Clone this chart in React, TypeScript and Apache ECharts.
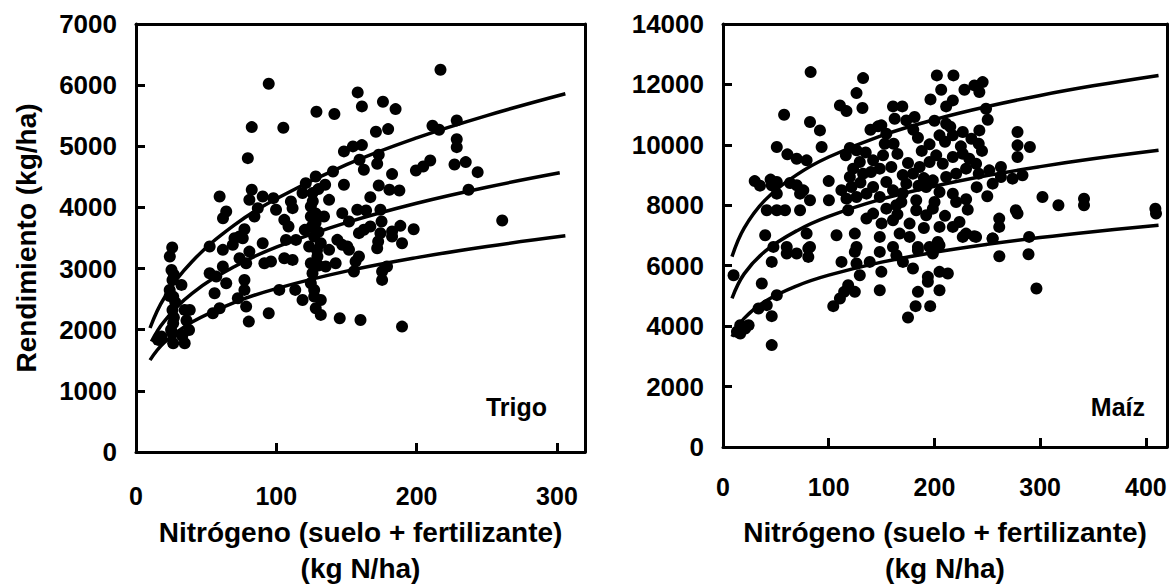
import React, { useEffect, useRef } from "react";
import * as echarts from "echarts";

const FONT = "'Liberation Sans', Arial, Helvetica, sans-serif";

// Axis extents
const trigoXMax = 320;
const trigoYMax = 7000;
const maizXMax = 420;
const maizYMax = 14000;

// Trigo (wheat) observations: [N kg/ha, yield kg/ha]
const trigoPoints: [number, number][] = [
  [94.6, 6023], [217, 6252], [158, 5881], [128.6, 5565], [141.4, 5527], [161, 5652], [176, 5729], [185, 5608],
  [82.5, 5314], [105, 5303], [171, 5237], [179.7, 5281], [211.3, 5335], [216, 5270], [228.6, 5423], [228.6, 5117],
  [228.6, 4986], [79.7, 4806], [148.2, 4916], [154.6, 4998], [161, 5019], [159.3, 4779], [162.4, 4616], [171.9, 4714],
  [173, 4861], [199.5, 4604], [204.7, 4670], [209.7, 4768], [227, 4703], [235, 4741], [243.5, 4577], [237, 4288],
  [261, 3786], [182.5, 4545], [173, 4359], [180.6, 4288], [187.7, 4277], [167, 4168], [148.2, 4370], [140.4, 4588],
  [128.1, 4506], [121, 4397], [134.8, 4370], [137.6, 4124], [125.8, 4234], [118.7, 4234], [59.6, 4179], [64.3, 3934],
  [62, 3824], [82.5, 4288], [80.8, 4124], [90.3, 4179], [97.9, 4152], [86.8, 3988], [84.4, 3852], [99.8, 3961],
  [110.4, 4097], [111.6, 3988], [105.7, 3797], [108.7, 3688], [124.6, 4015], [124.6, 3852], [125.3, 3688], [127, 3524],
  [134, 3852], [147, 3906], [151.8, 3770], [157.7, 3961], [164, 3950], [162.4, 3634], [167, 3688], [174.2, 3961],
  [175, 3770], [174.2, 3579], [182.5, 3606], [188.4, 3699], [189.6, 3415], [197.9, 3644], [172.6, 3442], [158.9, 3579],
  [77.3, 3644], [73.8, 3524], [70.2, 3497], [90.3, 3415], [120.3, 3633], [143.5, 3470], [150.6, 3361], [52.5, 3361],
  [25.8, 3345], [25.3, 2978], [26, 2815], [26.5, 2542], [26, 2324], [26.5, 2105], [26, 1942], [26.5, 1778],
  [18.2, 1887], [15.8, 1833], [34.7, 1778], [37.8, 1996], [34.7, 2324], [38.3, 2324], [32.4, 2733], [61.9, 3306],
  [69, 3388], [76.1, 3497], [78.5, 3088], [73.8, 3169], [80.8, 3278], [91.5, 3088], [96.2, 3115], [52.5, 2924],
  [57.2, 2869], [56, 2596], [61.9, 3033], [64.3, 2760], [54.8, 2269], [59.6, 2351], [72.6, 2515], [77.3, 2815],
  [77.3, 2651], [78.5, 2378], [80.4, 2133], [94.6, 2269], [102.1, 2651], [105.7, 3169], [111.6, 3142], [106.9, 3469],
  [114, 3469], [113.5, 2651], [118.7, 2487], [123.4, 3360], [124.6, 3088], [125.8, 2924], [127, 2542], [128.1, 2351],
  [131.7, 2242], [131.7, 2487], [129.3, 3197], [131.7, 3415], [135.2, 3033], [137.6, 3306], [142.3, 3088], [147, 3388],
  [151.8, 3306], [156.5, 3115], [158.9, 3197], [145.2, 2187], [160, 2160], [155.3, 2951], [171.9, 3333], [175.4, 2815],
  [175.4, 2951], [178.9, 3033], [182.5, 3524], [189.6, 2051], [124.6, 2760], [24.1, 3197], [24, 2650], [27, 2200],
  [25, 2000], [28, 2450], [128, 3900], [128, 3750], [130, 3600], [129, 3300], [130, 3050], [127, 2650], [126, 4100],
  [130, 4300], [24, 2550], [27, 2900], [36, 2150], [33, 1900],
];

// Maíz (maize) observations: [N kg/ha, yield kg/ha]
const maizPoints: [number, number][] = [
  [82.9, 12408], [132.5, 12209], [202.3, 12298], [218, 12298], [57.8, 10997], [126.3, 11713], [110.6, 11306], [116.8, 11118],
  [131.9, 11218], [82.3, 10755], [91.7, 10479], [93.3, 9928], [50.9, 9928], [60.9, 9686], [69.7, 9542], [79.1, 9487],
  [160.8, 11273], [169.6, 11273], [162.4, 10865], [173.4, 10810], [181.2, 10920], [196.3, 11504], [206.4, 11824], [217.4, 11471],
  [211.1, 11273], [228.4, 11824], [237.8, 11967], [245.6, 12077], [242.5, 11746], [248.8, 11196], [250.4, 10832], [242.5, 10479],
  [241.9, 10038], [226.8, 10424], [217.4, 10314], [211.1, 10700], [204.8, 10314], [195.4, 10016], [184.4, 10237], [149.8, 10645],
  [139.5, 10501], [146.7, 10612], [154.5, 10369], [161.4, 10038], [153, 10038], [116.2, 9653], [126.3, 9818], [129.4, 9432],
  [123.1, 9212], [120, 8936], [121.5, 8606], [126.3, 8275], [132.5, 9047], [142, 9487], [148.3, 9212], [151.4, 9653],
  [159.2, 9267], [154.5, 8771], [160.8, 8495], [142, 8606], [135.7, 8385], [148.3, 8275], [175, 9399], [179.7, 9047],
  [186, 9267], [195.4, 9432], [201.7, 9653], [207.9, 9377], [217.4, 9598], [226.8, 9708], [233, 9542], [239.4, 9377],
  [229.9, 9212], [220.5, 9047], [211.1, 8936], [198.5, 8826], [192.2, 8606], [204.8, 8440], [217.4, 8385], [220.5, 8110],
  [200.1, 8110], [182.8, 8165], [173.4, 8716], [168.7, 8110], [231.5, 7856], [241.9, 9047], [251.9, 9157], [255.1, 8716],
  [262.9, 9267], [262.9, 8936], [273.9, 8881], [283.3, 8991], [278.6, 10424], [278.6, 9983], [278.6, 9598], [290.3, 9928],
  [302.2, 8275], [317.3, 8000], [341.5, 8220], [341.5, 8000], [409, 7889], [409.6, 7724], [277, 7834], [278.6, 7724],
  [261.3, 7559], [261.3, 7284], [50.9, 8771], [46.1, 8661], [50.9, 8385], [41.4, 7834], [50.9, 7834], [58.7, 7834],
  [72.9, 8385], [82.3, 8165], [72.9, 7834], [63.4, 8738], [69.7, 8661], [76, 8495], [100.2, 8165], [116.8, 8220],
  [118.4, 7834], [135.7, 7559], [142, 7724], [154.5, 7889], [163.9, 8000], [160.8, 7504], [167.1, 7063], [176.5, 7394],
  [182.8, 7834], [192.2, 7669], [198.5, 7889], [204.8, 7284], [217.4, 7284], [223.7, 7449], [229.9, 7063], [239.4, 6953],
  [255.1, 6898], [289.6, 6953], [39.9, 7008], [79.1, 7063], [107.4, 7008], [124.7, 7063], [148.3, 6953], [176.5, 6953],
  [203.2, 6788], [60.3, 6622], [82.3, 6622], [126.3, 6622], [195.4, 6622], [184.4, 6622], [160.8, 6622], [47.7, 6623],
  [60.3, 6403], [69.7, 6403], [80.7, 6568], [80.7, 6292], [10, 5686], [36.7, 5411], [46.1, 6127], [112.1, 6127],
  [124.7, 6458], [126.3, 6072], [129.4, 5686], [138.8, 6127], [148.3, 6458], [149.8, 5797], [148.3, 5190], [164, 6348],
  [170.2, 6127], [179.7, 5907], [184.4, 6513], [198.5, 6403], [204.8, 6678], [193.8, 5631], [193.8, 5466], [204.8, 5797],
  [212.7, 5742], [204.8, 5190], [196, 4661], [184.4, 5135], [182.2, 4661], [175, 4287], [118.4, 5356], [124.7, 5135],
  [110.6, 4915], [104.3, 4661], [114.6, 5135], [261.4, 6314], [289, 6381], [296.5, 5246], [255, 6899], [16.3, 4033],
  [13.2, 3813], [24.2, 4033], [33.6, 4584], [41.4, 4694], [46.1, 4331], [46.1, 3372], [50.9, 5025], [16.3, 3758],
  [21, 3923], [226.8, 6954], [237.8, 6976], [120, 9900], [135, 9750], [140, 9100], [165, 9700], [170, 9000],
  [188, 9800], [190, 8900], [210, 10100], [225, 9950], [235, 10200], [245, 9800], [170, 8400], [185, 8650],
  [130, 8750], [112, 8500], [100, 8800], [150, 7400], [165, 7700], [190, 7250], [210, 7650], [230, 8200],
  [240, 8600], [250, 8300], [180, 10500], [200, 10800], [215, 10600], [30, 8800], [35, 8650], [45, 8850],
];

// Fitted response curves
const trigoHighX = [10, 20, 40, 70, 100, 150, 200, 250, 306];
const trigoHighY = [2028, 2514, 3117, 3710, 4143, 4699, 5137, 5502, 5859];
const trigoMidX = [11, 20, 40, 70, 100, 150, 200, 250, 302];
const trigoMidY = [1806, 2134, 2595, 3031, 3352, 3752, 4069, 4331, 4566];
const trigoLowX = [10, 20, 40, 70, 100, 150, 200, 250, 306];
const trigoLowY = [1503, 1787, 2126, 2445, 2673, 2958, 3179, 3361, 3535];

const maizCurveX = [8.5, 20, 40, 70, 100, 150, 200, 250, 300, 350, 412];
const maizHighY = [6300, 7247, 8179, 9015, 9598, 10306, 10835, 11268, 11636, 11953, 12298];
const maizMidY = [4920, 5730, 6483, 7160, 7632, 8202, 8630, 8984, 9279, 9537, 9818];
const maizLowY = [3650, 4257, 4823, 5334, 5687, 6118, 6444, 6708, 6932, 7126, 7339];

const xTitle = "Nitrógeno (suelo + fertilizante)\n(kg N/ha)";
const yTitle = "Rendimiento (kg/ha)";
const panelLabels = ["Trigo", "Maíz"];

const zip = (xs: number[], ys: number[]) => xs.map((x, i) => [x, ys[i]]);

export default function App() {
  const ref = useRef<HTMLDivElement>(null);
  useEffect(() => {
    if (!ref.current) return;
    const chart = echarts.init(ref.current, undefined, { renderer: "svg" });
    const axisLine = () => ({ show: true, onZero: false, lineStyle: { color: "#000", width: 3 } });
    const axisTick = () => ({ show: true, inside: true, length: 9, lineStyle: { color: "#000", width: 3 } });
    const xLabel = (margin: number) => ({
      fontSize: 25, fontWeight: "bold", color: "#000", fontFamily: FONT, margin,
      formatter: (v: number) => (v % 100 === 0 ? String(v) : ""),
    });
    const yLabel = () => ({
      fontSize: 26, fontWeight: "bold", color: "#000", fontFamily: FONT, margin: 19,
      formatter: (v: number) => String(v),
    });
    const nameStyle = { fontSize: 28, fontWeight: "bold", color: "#000", fontFamily: FONT, lineHeight: 36 };
    const frameAxis = (gridIndex: number, position: string, max: number) => ({
      gridIndex, position, type: "value", min: 0, max,
      axisLine: axisLine(), axisTick: { show: false }, axisLabel: { show: false }, splitLine: { show: false },
    });
    const lineSeries = (xi: number, xs: number[], ys: number[]) => ({
      type: "line", xAxisIndex: xi, yAxisIndex: xi, data: zip(xs, ys), smooth: 0.4,
      showSymbol: false, symbol: "none", lineStyle: { color: "#000", width: 3.5 }, z: 3,
    });
    const panelTitle = (text: string, right: number) => ({
      text, right, top: 394, padding: 0,
      textStyle: { fontSize: 25, fontWeight: "bold", color: "#000", fontFamily: FONT },
    });
    const gridBase = { containLabel: false, outerBoundsMode: "none" };
    const option: any = {
      animation: false,
      textStyle: { fontFamily: FONT },
      title: [panelTitle(panelLabels[0], 1171 - 547), panelTitle(panelLabels[1], 1171 - 1145)],
      grid: [
        { ...gridBase, left: 136, top: 24, width: 449, height: 428 },
        { ...gridBase, left: 723, top: 24, width: 444, height: 423 },
      ],
      xAxis: [
        { gridIndex: 0, position: "bottom", type: "value", min: 0, max: trigoXMax, interval: 100, axisLine: axisLine(), axisTick: axisTick(), axisLabel: xLabel(31), splitLine: { show: false },
          name: xTitle, nameLocation: "middle", nameGap: 62, nameTextStyle: nameStyle },
        { gridIndex: 1, position: "bottom", type: "value", min: 0, max: maizXMax, interval: 100, axisLine: axisLine(), axisTick: axisTick(), axisLabel: xLabel(27), splitLine: { show: false },
          name: xTitle, nameLocation: "middle", nameGap: 67, nameTextStyle: nameStyle },
        frameAxis(0, "top", trigoXMax),
        frameAxis(1, "top", maizXMax),
      ],
      yAxis: [
        { gridIndex: 0, position: "left", type: "value", min: 0, max: trigoYMax, interval: 1000, axisLine: axisLine(), axisTick: axisTick(), axisLabel: yLabel(), splitLine: { show: false },
          name: yTitle, nameLocation: "middle", nameGap: 96, nameRotate: 90, nameTextStyle: { ...nameStyle, lineHeight: 28 } },
        { gridIndex: 1, position: "left", type: "value", min: 0, max: maizYMax, interval: 2000, axisLine: axisLine(), axisTick: axisTick(), axisLabel: yLabel(), splitLine: { show: false } },
        frameAxis(0, "right", trigoYMax),
        frameAxis(1, "right", maizYMax),
      ],
      series: [
        { type: "scatter", xAxisIndex: 0, yAxisIndex: 0, data: trigoPoints, symbol: "circle", symbolSize: 12, itemStyle: { color: "#000", opacity: 1 }, z: 2 },
        { type: "scatter", xAxisIndex: 1, yAxisIndex: 1, data: maizPoints, symbol: "circle", symbolSize: 12, itemStyle: { color: "#000", opacity: 1 }, z: 2 },
        lineSeries(0, trigoHighX, trigoHighY),
        lineSeries(0, trigoMidX, trigoMidY),
        lineSeries(0, trigoLowX, trigoLowY),
        lineSeries(1, maizCurveX, maizHighY),
        lineSeries(1, maizCurveX, maizMidY),
        lineSeries(1, maizCurveX, maizLowY),
      ],
    };
    chart.setOption(option);
    return () => chart.dispose();
  }, []);
  return <div ref={ref} style={{ position: "absolute", left: 0, top: 0, width: 1171, height: 587 }} />;
}
